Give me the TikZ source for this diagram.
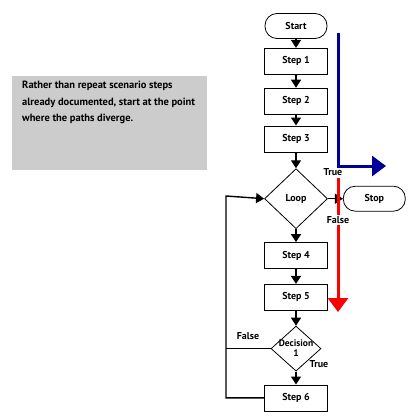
\documentclass[tikz,border=0pt]{standalone}
\usepackage{fontspec}
\setmainfont{PT Sans}
\usetikzlibrary{shapes.geometric, arrows.meta, positioning}
\definecolor{pathblue}{RGB}{0,0,153}

\begin{document}
\begin{tikzpicture}[x=1pt, y=-1pt, font=\fontsize{10}{11}\selectfont\bfseries]
\tikzstyle{process} = [rectangle, minimum width=63pt, minimum height=26pt, text centered, draw=black, line width=0.8pt]
\tikzstyle{terminal} = [rectangle, rounded corners=12pt, minimum width=62pt, minimum height=25pt, text centered, draw=black, line width=0.8pt]
\tikzstyle{decision} = [diamond, inner sep=0pt, align=center, draw=black, line width=0.8pt]
\tikzstyle{flow} = [-{Triangle[width=10pt, length=8pt]}, line width=1.4pt]
\tikzstyle{scenario} = [-{Triangle[width=20pt, length=14pt]}, line width=3pt]
\useasboundingbox (0,0) rectangle (420,420);

\fill [black!20] (12,76) rectangle (207,170);
\node (note) [anchor=north west, align=left, inner sep=0pt, font=\fontsize{10.5}{16.5}\selectfont\bfseries] at (22,81) {Rather than repeat scenario steps\\already documented, start at the point\\where the paths diverge.};

\node (start) [terminal] at (296,26) {Start};
\node (step1) [process, below=9pt of start] {Step 1};
\node (step2) [process, below=13pt of step1] {Step 2};
\node (step3) [process, below=11pt of step2] {Step 3};
\node (loop)  [decision, minimum width=63pt, minimum height=60pt, below=16pt of step3] {Loop};
\node (step4) [process, below=13pt of loop] {Step 4};
\node (step5) [process, below=15pt of step4] {Step 5};
\node (dec)   [decision, minimum width=50pt, minimum height=45pt, below=15pt of step5, label={[align=center, font=\fontsize{9.5}{10}\selectfont\bfseries]center:Decision\\1}] {};
\node (step6) [process, below=13pt of dec] {Step 6};
\node (stop)  [terminal, right=15pt of loop] {Stop};

\coordinate (rail) at (226,196);
\draw [flow] (start) -- (step1);
\draw [flow] (step1) -- (step2);
\draw [flow] (step2) -- (step3);
\draw [flow] (step3) -- (loop);
\draw [flow] (loop) -- (step4);
\draw [flow] (step4) -- (step5);
\draw [flow] (step5) -- (dec);
\draw [flow] (dec) -- (step6);
\draw [flow] (loop) -- (stop);
\draw [flow] (step6.west) -| (rail) -- (loop.west);
\draw [line width=1.4pt] (dec.west) -- (dec.west -| rail);

\node (trueA) at (333,172) {True};
\node (falseB) at (248,336) {False};
\node (trueB) at (319,364) {True};

% the two scenario paths
\coordinate (blueTop) at (338,33);
\coordinate (blueEnd) at (386,166);
\coordinate (redTop) at (338,178);
\coordinate (redEnd) at (338,312);
\draw [scenario, pathblue] (blueTop) |- (blueEnd);
\draw [scenario, red] (redTop) -- (redEnd);
\node (falseA) [fill=white, inner sep=1pt] at (338,220) {False};

\end{tikzpicture}
\end{document}
